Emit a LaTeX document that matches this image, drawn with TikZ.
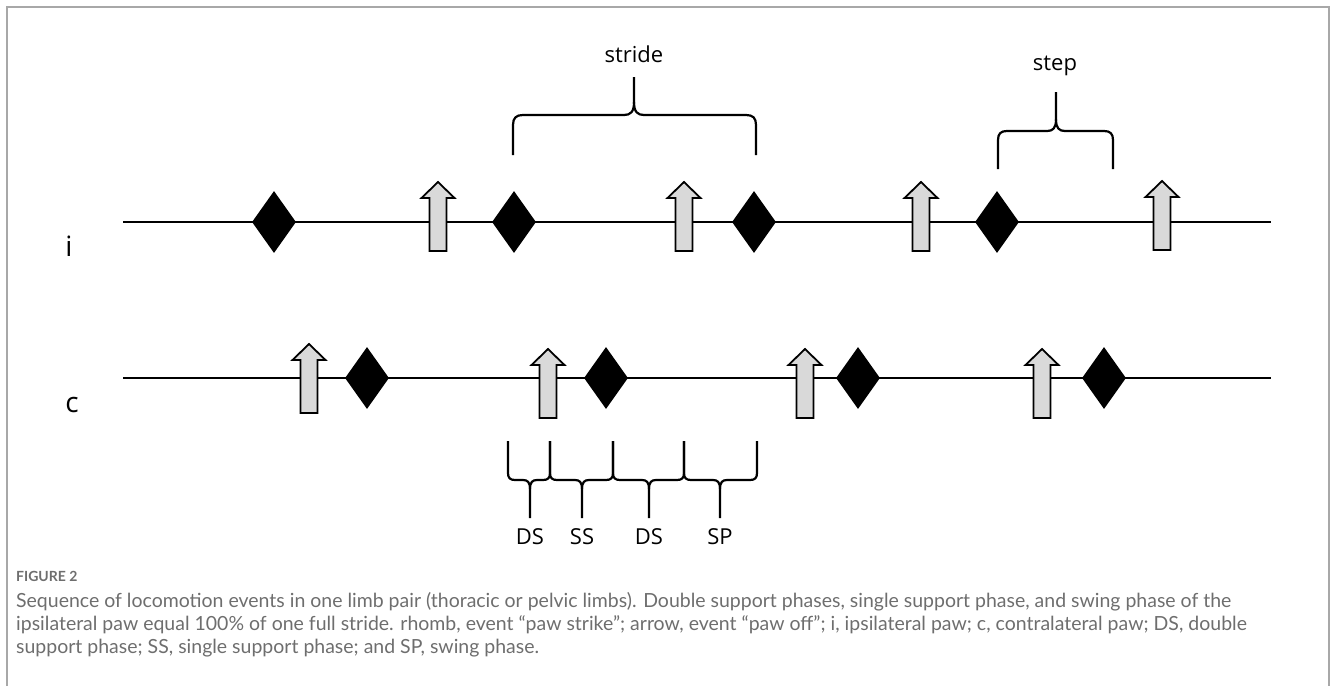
\documentclass[tikz,border=0pt]{standalone}
\usepackage{fontspec}
\setmainfont{Open Sans}
\newfontfamily\capfont{Lato}
\usetikzlibrary{shapes.geometric}
\definecolor{arrgray}{HTML}{D9D9D9}
\definecolor{framegray}{HTML}{A8A8A8}
\definecolor{capgray}{HTML}{6E6E6E}
\newlength\capw
\newcommand\capone{Sequence of locomotion events in one limb pair (thoracic or pelvic limbs). Double support phases, single support phase, and swing phase of the}
\newcommand\captwo{ipsilateral paw equal 100\% of one full stride. rhomb, event “paw strike”; arrow, event “paw off”; i, ipsilateral paw; c, contralateral paw; DS, double}
\newcommand\capthree{support phase; SS, single support phase; and SP, swing phase.}
\newcommand\capsize{\fontsize{18}{22}\selectfont}
% x1 xm x2 yend yh ytip dir radius
\newcommand\mybrace[8]{%
  \draw[bracestyle] (#1,#4) -- (#1,{#5-(#7)*(#8)}) .. controls (#1,{#5-(#7)*0.3*(#8)}) and ({#1+0.3*(#8)},#5) .. ({#1+(#8)},#5)
    -- ({#2-(#8)},#5) .. controls ({#2-0.35*(#8)},#5) and (#2,{#5+(#7)*0.3*(#8)}) .. (#2,{#5+(#7)*1.3*(#8)}) -- (#2,#6);
  \draw[bracestyle] (#3,#4) -- (#3,{#5-(#7)*(#8)}) .. controls (#3,{#5-(#7)*0.3*(#8)}) and ({#3-0.3*(#8)},#5) .. ({#3-(#8)},#5)
    -- ({#2+(#8)},#5) .. controls ({#2+0.35*(#8)},#5) and (#2,{#5+(#7)*0.3*(#8)}) .. (#2,{#5+(#7)*1.3*(#8)});
}
\tikzset{
  strike/.style={shape=diamond, fill=black, minimum width=44pt, minimum height=62pt, inner sep=0pt},
  trackline/.style={line width=1.6pt, black},
  bracestyle/.style={line width=2.2pt, black, line cap=butt, line join=round},
  lbl/.style={font=\fontsize{22}{26}\selectfont, inner sep=0pt},
  rowlbl/.style={font=\fontsize{28}{32}\selectfont, inner sep=0pt},
  pawoff/.pic={\path[draw=black, fill=arrgray, line width=1.8pt, line join=miter]
     (0,0) -- (16.5,16) -- (8.5,16) -- (8.5,69) -- (-8.5,69) -- (-8.5,16) -- (-16.5,16) -- cycle;},
  capline/.style={anchor=base west, inner sep=0pt, text=capgray},
}
\begin{document}
\settowidth\capw{\capfont\capsize\capone}%
\pgfmathsetmacro\capscale{1215/\capw}%
\begin{tikzpicture}[x=1pt,y=-1pt]
\useasboundingbox (0,0) rectangle (1330,686);
% frame
\draw[framegray, line width=1.6pt] (7,686) -- (7,7) -- (1329,7) -- (1329,686);
% track lines
\coordinate (i0) at (123,222); \coordinate (i1) at (1271,222);
\coordinate (c0) at (123,378); \coordinate (c1) at (1271,378);
\draw[trackline] (i0) -- (i1);
\draw[trackline] (c0) -- (c1);
% row labels
\node[rowlbl] (li) at (69,246) {i};
\node[rowlbl] (lc) at (72,405) {c};
% ipsilateral row
\node[strike] (is1) at (274,222) {};
\node[strike] (is2) at (514,222) {};
\node[strike] (is3) at (754,222) {};
\node[strike] (is4) at (997,222) {};
\pic at (438,182) {pawoff};
\pic at (684,182) {pawoff};
\pic at (921,182) {pawoff};
\pic at (1162,181) {pawoff};
% contralateral row
\node[strike] (cs1) at (367,378) {};
\node[strike] (cs2) at (606,378) {};
\node[strike] (cs3) at (858,378) {};
\node[strike] (cs4) at (1104,378) {};
\pic at (309,344) {pawoff};
\pic at (548,349) {pawoff};
\pic at (805,349) {pawoff};
\pic at (1042,349) {pawoff};
% stride / step braces
\mybrace{513}{634}{756}{155}{115}{77}{-1}{10}
\node[lbl] (stride) at (634,54) {stride};
\mybrace{998}{1056}{1113}{169}{131}{92}{-1}{9}
\node[lbl] (step) at (1055,66) {step};
% phase braces
\mybrace{508}{530}{550}{441}{480}{518}{1}{7}
\mybrace{550}{582}{613}{441}{480}{518}{1}{7}
\mybrace{613}{649}{684}{441}{480}{518}{1}{7}
\mybrace{684}{720}{757}{441}{480}{518}{1}{7}
\node[lbl] (ds1) at (530,537) {DS};
\node[lbl] (ss) at (582,537) {SS};
\node[lbl] (ds2) at (649,537) {DS};
\node[lbl] (sp) at (720,537) {SP};
% caption
\node[capline] (fig) at (16,581) {\capfont\bfseries\fontsize{14}{16}\selectfont FIGURE 2};
\node[capline] (cap1) at (16,607) {\scalebox{\capscale}{\capfont\capsize\capone}};
\node[capline] (cap2) at (16,630) {\scalebox{\capscale}{\capfont\capsize\captwo}};
\node[capline] (cap3) at (16,653) {\scalebox{\capscale}{\capfont\capsize\capthree}};
\end{tikzpicture}
\end{document}
